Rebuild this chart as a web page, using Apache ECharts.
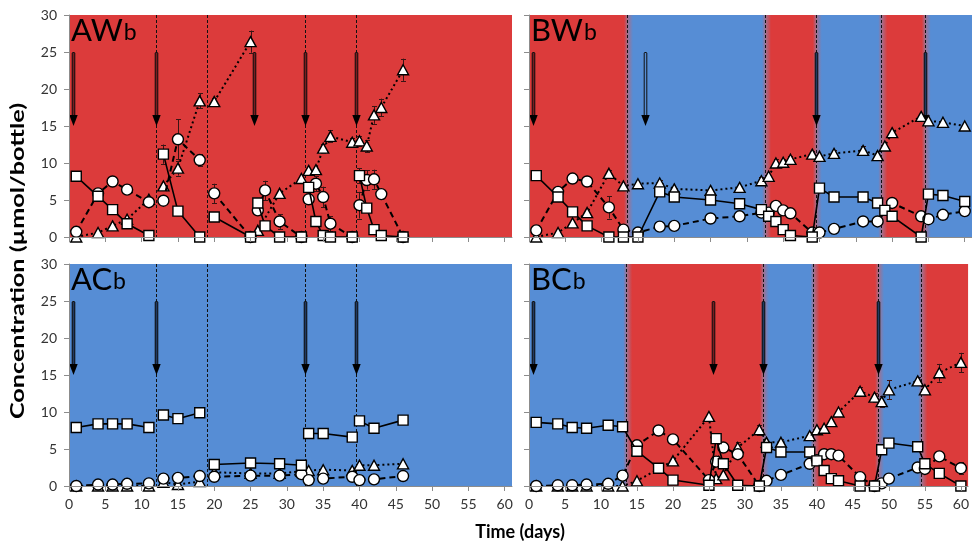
<!DOCTYPE html>
<html><head><meta charset="utf-8">
<script src="https://cdn.jsdelivr.net/npm/echarts@6/dist/echarts.min.js"></script>
<style>html,body{margin:0;padding:0;background:#fff}#c{width:972px;height:543px}</style>
</head><body><div id="c"></div>
<script>
// ---------- tick labels ----------
const xTicks = [0,5,10,15,20,25,30,35,40,45,50,55,60];
const yTicks = [0,5,10,15,20,25,30];

// ---------- panel names ----------
const namesAW = ['AW','b'], namesBW = ['BW','b'], namesAC = ['AC','b'], namesBC = ['BC','b'];

// ---------- light (r) / dark (b) periods ----------
const bandsAW = [[0,61,'r']];
const bandsBW = [[0,13.5,'r'],[13.5,32.5,'b'],[32.5,39.5,'r'],[39.5,48.5,'b'],[48.5,54.5,'r'],[54.5,61,'b']];
const bandsAC = [[0,61,'b']];
const bandsBC = [[0,13.5,'b'],[13.5,32.5,'r'],[32.5,39.5,'b'],[39.5,48.5,'r'],[48.5,54.5,'b'],[54.5,61,'r']];

// ---------- dashed event lines (days) ----------
const dashAW = [12,19,32.5,39.5];
const dashBW = [13.5,32.5,39.5,48.5,54.5];
const dashAC = [12,19,32.5,39.5];
const dashBC = [13.5,32.5,39.5,48.5,54.5];

// ---------- arrows (day, kind: d = filled, h = hollow) ----------
const arrowsAW = [[0.5,'d'],[12,'d'],[25.5,'d'],[32.5,'d'],[39.5,'d']];
const arrowsBW = [[0.5,'d'],[16,'h'],[39.5,'d'],[54.5,'d']];
const arrowsAC = [[0.5,'d'],[12,'d'],[32.5,'d'],[39.5,'d']];
const arrowsBC = [[0.5,'d'],[25.5,'d'],[32.5,'d'],[48.5,'d']];

// ---------- squares (solid line), segments ----------
const sqAW = [
  [[1,8.2],[4,5.5],[6,3.7],[8,1.8],[11,0.2]],
  [[13,11.2],[15,3.5],[18,0]],
  [[20,2.7],[25,0]],
  [[26,4.6],[27,1.5],[29,0],[32,0]],
  [[33,6.7],[34,2.1],[35,0.2],[36,0],[39,0]],
  [[40,8.3],[41,3.9],[42,1.0],[43,0.2],[46,0]]
];
const sqBW = [
  [[1,8.3],[4,5.4],[6,3.4],[8,1.5],[11,0],[13,0],[15,0],[18,6.1],[20,5.4],[25,5.0],[29,4.5],[32,3.7],[33,2.8],[34,2.1],[35,1.0],[36,0.2],[39,0],[40,6.6],[42,5.4],[46,5.4],[48,4.6],[49,3.6],[50,2.8],[54,0],[55,5.8],[57,5.6],[60,4.8]]
];
const sqAC = [
  [[1,7.9],[4,8.4],[6,8.4],[8,8.4],[11,7.9]],
  [[13,9.6],[15,9.1],[18,9.9]],
  [[20,2.9],[25,3.1],[29,3.0],[32,2.8]],
  [[33,7.1],[35,7.1],[39,6.6]],
  [[40,8.8],[42,7.8],[46,8.9]]
];
const sqBC = [
  [[1,8.6],[4,8.4],[6,7.9],[8,7.8],[11,8.2],[13,8.0],[15,4.7],[18,2.4],[20,0.8],[25,0.1],[26,6.4],[27,3.0],[29,0.1],[32,0],[33,5.2],[35,4.6],[39,4.6],[40,3.4],[41,2.1],[42,1.0],[43,0.7],[46,0],[48,0],[49,4.9],[50,5.8],[54,5.3],[55,3.0],[57,1.7],[60,0]]
];

// ---------- circles (dashed line), segments ----------
const ciAW = [
  [[1,0.7],[4,5.9],[6,7.5],[8,6.4],[11,4.7]],
  [[13,4.9],[15,13.2],[18,10.4]],
  [[20,5.9],[25,0]],
  [[26,3.6],[27,6.3],[29,2.1],[32,0]],
  [[33,5.1],[34,7.2],[35,5.4],[36,1.8],[39,0]],
  [[40,4.3],[41,7.7],[42,7.8],[43,5.8],[46,0]]
];
const ciBW = [
  [[1,0.9],[4,6.1],[6,7.9],[8,7.5],[11,4.0],[13,1.0],[15,0.6],[18,1.4],[20,1.5],[25,2.5],[29,2.8],[32,3.3],[33,3.3],[34,4.2],[35,3.6],[36,3.2],[39,0.6],[40,0.6],[42,1.1],[46,2.1],[48,2.1],[50,4.6],[54,2.8],[55,2.4],[57,3.0],[60,3.5]]
];
const ciAC = [
  [[1,0],[4,0.2],[6,0.2],[8,0.3],[11,0.35]],
  [[13,1.0],[15,1.1],[18,1.35]],
  [[20,1.25],[25,1.4],[29,1.4],[32,1.6]],
  [[33,0.8],[35,1.0],[39,1.25]],
  [[40,0.8],[42,0.9],[46,1.35]]
];
const ciBC = [
  [[1,0],[4,0.1],[6,0.1],[8,0.2],[11,0.3],[13,1.4],[15,5.5],[18,7.5],[20,6.3],[25,0.8],[26,3.3],[27,5.2],[29,4.3],[32,0],[33,0.7],[35,1.5],[39,3.0],[40,3.5],[41,4.3],[42,4.3],[43,4.1],[46,1.2],[48,0],[49,0.35],[50,1.0],[54,2.5],[55,2.3],[57,4.0],[60,2.4]]
];

// ---------- triangles (dotted line), segments ----------
const trAW = [
  [[1,0],[4,0.6],[6,1.5],[8,2.4],[11,5.1]],
  [[13,6.9],[15,9.3],[18,18.4]],
  [[20,18.3],[25,26.4]],
  [[26,0.9],[29,5.9],[32,7.9],[33,9.0],[34,9.1],[35,12.0],[36,13.6],[39,12.8],[40,13.0],[41,12.3],[42,16.5],[43,17.5],[46,22.6]]
];
const trBW = [
  [[1,0],[4,0.6],[6,1.9],[8,3.3],[11,8.6],[13,6.9],[15,7.2],[18,7.3],[20,6.5],[25,6.3],[29,6.7],[32,7.6],[33,8.2],[34,10.0],[35,10.1],[36,10.5],[39,11.2],[40,10.9],[42,11.3],[46,11.7],[48,11.0],[49,12.3],[50,14.1],[54,16.3],[55,15.7],[57,15.5],[60,15.0]]
];
const trAC = [
  [[1,0],[4,0],[6,0],[8,0],[11,0]],
  [[13,0.5],[15,0.2],[18,0.6]],
  [[20,1.85],[25,1.7],[29,1.7],[32,2.0],[33,2.1],[35,2.2],[39,2.1],[40,2.8],[42,2.8],[46,3.0]]
];
const trBC = [
  [[1,0],[4,0],[6,0],[8,0],[11,0],[13,0],[15,0.7],[20,3.4],[25,9.4],[26,1.0],[27,1.5],[29,5.2],[32,7.6],[33,5.9],[35,5.9],[39,6.8],[40,7.6],[41,7.8],[42,8.7],[43,10.0],[46,12.8],[48,12.0],[49,11.4],[50,13.0],[54,14.2],[55,13.0],[57,15.3],[60,16.7]]
];

// ---------- error bars [day, value, ±err] ----------
const errAW = [[13,11.2,1.3],[15,13.2,2.7],[15,9.3,1.0],[18,18.4,1.0],[18,10.4,0.8],[20,18.3,0.5],[20,5.9,1.3],[25,26.4,1.5],[27,6.3,1.3],[29,2.1,1.0],[34,7.2,1.0],[35,5.4,1.4],[35,12.0,0.6],[36,13.6,0.8],[36,1.8,1.0],[39,12.8,0.6],[40,13.0,0.7],[40,4.3,1.8],[40,8.3,1.0],[41,12.3,0.8],[41,7.7,1.3],[42,16.5,1.2],[42,7.8,1.3],[43,17.5,1.2],[46,22.6,1.5]];
const errBW = [[11,4.0,1.5],[11,8.6,0.5],[13,1.0,0.5],[15,0.6,0.3],[18,7.3,0.4],[32,7.6,0.5],[34,10.0,0.5],[35,10.1,0.4],[36,10.5,0.5],[34,4.2,0.4],[39,11.2,0.4],[42,11.3,0.4],[46,11.7,0.6],[48,11.0,0.6],[54,2.8,0.6]];
const errAC = [[15,9.1,0.6],[46,8.9,0.5]];
const errBC = [[26,6.4,0.4],[29,5.2,0.7],[32,7.6,0.7],[35,5.9,0.5],[39,6.8,0.5],[46,12.8,0.6],[46,1.2,0.5],[48,12.0,0.6],[49,11.4,0.7],[50,13.0,1.3],[50,5.8,0.4],[54,14.2,0.5],[55,13.0,0.5],[57,15.3,1.2],[60,16.7,1.3],[60,2.4,0.8]];

// ---------- build ----------
const RED = '#dc3b3b', BLUE = '#568dd5';
const FONT = 'Lato';
const col = k => k === 'r' ? RED : BLUE;

const panels = [
  {name: namesAW, bands: bandsAW, dashes: dashAW, arrows: arrowsAW, sq: sqAW, ci: ciAW, tr: trAW, err: errAW},
  {name: namesBW, bands: bandsBW, dashes: dashBW, arrows: arrowsBW, sq: sqBW, ci: ciBW, tr: trBW, err: errBW},
  {name: namesAC, bands: bandsAC, dashes: dashAC, arrows: arrowsAC, sq: sqAC, ci: ciAC, tr: trAC, err: errAC},
  {name: namesBC, bands: bandsBC, dashes: dashBC, arrows: arrowsBC, sq: sqBC, ci: ciBC, tr: trBC, err: errBC}
];
const gridPos = [
  {left: 69, top: 15}, {left: 529, top: 15}, {left: 69, top: 264}, {left: 529, top: 264}
];

const grids = [], xAxes = [], yAxes = [], series = [], titles = [];

function bandAt(bands, d) {
  for (const b of bands) if (d >= b[0] && d < b[1]) return b[2];
  return bands[bands.length - 1][2];
}

panels.forEach((p, i) => {
  const isLeft = i % 2 === 0, isBottom = i >= 2;
  grids.push({left: gridPos[i].left, top: gridPos[i].top, width: 443, height: 222, containLabel: false});
  xAxes.push({
    type: 'value', gridIndex: i, min: 0, max: 61, z: 10,
    axisLine: {show: true, lineStyle: {color: '#8c8c8c', width: 1}},
    axisTick: {show: true, inside: false, length: 5, lineStyle: {color: '#8c8c8c'}, customValues: xTicks},
    axisLabel: {show: isBottom, customValues: xTicks, fontFamily: FONT, fontSize: 14, color: '#333', margin: 11},
    splitLine: {show: false}
  });
  yAxes.push({
    type: 'value', gridIndex: i, min: 0, max: 30, interval: 5, z: 10,
    axisLine: {show: true, lineStyle: {color: '#8c8c8c', width: 1}},
    axisTick: {show: true, inside: false, length: 5, lineStyle: {color: '#8c8c8c'}},
    axisLabel: {show: isLeft, fontFamily: FONT, fontSize: 14, color: '#333', margin: 12,
      formatter: v => yTicks.includes(v) ? String(v) : ''},
    splitLine: {show: false}
  });

  // background bands
  series.push({
    type: 'custom', xAxisIndex: i, yAxisIndex: i, z: 0, silent: true, clip: true,
    data: p.bands.map((b, k) => [b[0], 0, k]),
    encode: {x: 0, y: 1},
    renderItem: (params, api) => {
      const k = api.value(2), b = p.bands[k];
      const a = api.coord([b[0], 30]), c = api.coord([b[1], 0]);
      const children = [{type: 'rect', shape: {x: a[0], y: a[1], width: c[0] - a[0], height: c[1] - a[1]}, style: {fill: col(b[2])}}];
      if (k > 0) {
        const pr = p.bands[k - 1];
        children.push({type: 'rect', shape: {x: a[0] - 3, y: a[1], width: 9, height: c[1] - a[1]},
          style: {fill: new echarts.graphic.LinearGradient(0, 0, 1, 0, [
            {offset: 0, color: col(pr[2])}, {offset: 0.4, color: '#a0708f'}, {offset: 1, color: col(b[2])}])}});
      }
      return {type: 'group', children};
    }
  });

  // dashed event lines
  series.push({
    type: 'custom', xAxisIndex: i, yAxisIndex: i, z: 1, silent: true, clip: true,
    data: p.dashes.map(d => [d, 0]),
    renderItem: (params, api) => {
      const d = api.value(0);
      const a = api.coord([d, 30]), c = api.coord([d, 0]);
      const x = Math.round(a[0]) + 0.5;
      return {type: 'line', shape: {x1: x, y1: a[1], x2: x, y2: c[1]}, style: {stroke: '#111', lineWidth: 1, lineDash: [3, 2]}};
    }
  });

  // arrows
  series.push({
    type: 'custom', xAxisIndex: i, yAxisIndex: i, z: 2, silent: true, clip: false,
    data: p.arrows.map((a, k) => [a[0], 20, k]),
    renderItem: (params, api) => {
      const d = api.value(0), k = api.value(2);
      const kind = p.arrows[k][1];
      const top = api.coord([d, 25]), tip = api.coord([d, 15]);
      const x = Math.round(top[0]) + 0.5;
      const headH = 11, headW = 4.2;
      const bk = bandAt(p.bands, d);
      const inner = kind === 'h' ? col(bk) : (bk === 'r' ? '#7c1c1f' : '#203a63');
      const shaftH = tip[1] - headH - top[1] + 1;
      return {type: 'group', children: [
        {type: 'rect', shape: {x: x - 1.8, y: top[1], width: 3.6, height: shaftH + 1, r: 1.5}, style: {fill: '#111'}},
        {type: 'rect', shape: {x: x - 0.8, y: top[1] + 1, width: 1.6, height: shaftH - 1}, style: {fill: inner}},
        {type: 'polygon', shape: {points: [[x - headW, tip[1] - headH], [x + headW, tip[1] - headH], [x, tip[1]]]}, style: {fill: '#000'}}
      ]};
    }
  });

  // error bars
  series.push({
    type: 'custom', xAxisIndex: i, yAxisIndex: i, z: 3, silent: true, clip: false,
    data: p.err,
    renderItem: (params, api) => {
      const d = api.value(0), v = api.value(1), e = api.value(2);
      const lo = api.coord([d, Math.max(0, v - e)]), hi = api.coord([d, v + e]);
      const x = Math.round(lo[0]) + 0.5;
      const st = {stroke: '#3a1414', lineWidth: 1};
      return {type: 'group', children: [
        {type: 'line', shape: {x1: x, y1: lo[1], x2: x, y2: hi[1]}, style: st},
        {type: 'line', shape: {x1: x - 2.5, y1: Math.round(hi[1]) + 0.5, x2: x + 2.5, y2: Math.round(hi[1]) + 0.5}, style: st},
        {type: 'line', shape: {x1: x - 2.5, y1: Math.round(lo[1]) + 0.5, x2: x + 2.5, y2: Math.round(lo[1]) + 0.5}, style: st}
      ]};
    }
  });

  const addLines = (segs, symbol, size, lineType, width, z) => {
    segs.forEach(seg => series.push({
      type: 'line', xAxisIndex: i, yAxisIndex: i, z: z, silent: true, animation: false,
      data: seg, symbol: symbol, symbolSize: size, showSymbol: true, clip: false,
      itemStyle: {color: '#fff', borderColor: '#000', borderWidth: 1.4},
      lineStyle: {color: '#000', width: width, type: lineType},
      emphasis: {disabled: true}
    }));
  };
  addLines(p.tr, 'triangle', [11, 10], [2, 3], 2, 4);
  addLines(p.ci, 'circle', 11, [6, 4], 2, 5);
  addLines(p.sq, 'rect', 10, 'solid', 1.6, 6);

  titles.push({
    text: '{a|' + p.name[0] + '}{b|' + p.name[1] + '}',
    left: gridPos[i].left + 2, top: gridPos[i].top, padding: 0,
    textStyle: {fontWeight: 'normal', rich: {
      a: {fontFamily: FONT, fontSize: 31, fontWeight: 'normal', color: '#000', verticalAlign: 'bottom'},
      b: {fontFamily: FONT, fontSize: 23, fontWeight: 'normal', color: '#000', verticalAlign: 'bottom', padding: [0, 0, 2, 1]}
    }}
  });
});

const chart = echarts.init(document.getElementById('c'), null, {renderer: 'canvas'});
chart.setOption({
  animation: false,
  backgroundColor: '#fff',
  title: titles,
  grid: grids,
  xAxis: xAxes,
  yAxis: yAxes,
  series: series,
  graphic: [
    {type: 'text', x: 520, y: 532, z: 100,
     style: {text: 'Time (days)', fontFamily: FONT, fontWeight: 'bold', fontSize: 18, fill: '#000', align: 'center', verticalAlign: 'middle'}},
    {type: 'text', x: 18, y: 261, rotation: Math.PI / 2, scaleX: 1.4, z: 100,
     style: {text: 'Concentration (µmol/bottle)', fontFamily: FONT, fontWeight: 'bold', fontSize: 18, fill: '#000', align: 'center', verticalAlign: 'middle'}}
  ]
});
</script></body></html>
